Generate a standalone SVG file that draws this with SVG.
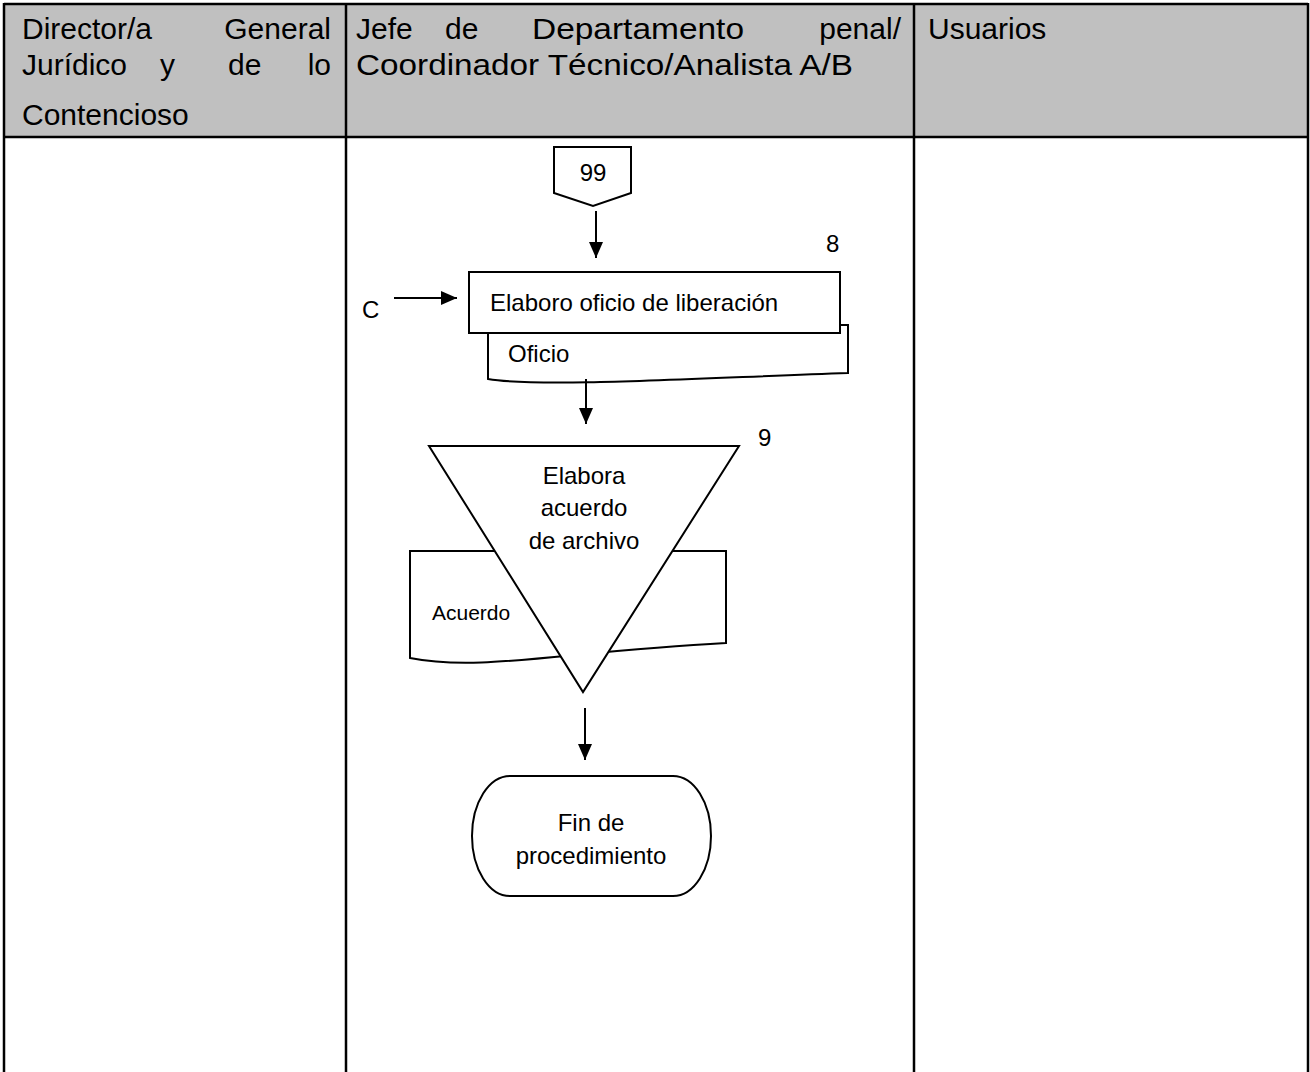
<svg xmlns="http://www.w3.org/2000/svg" width="1310" height="1072" viewBox="0 0 1310 1072">
  <style>
    .hdr { font-family: "Liberation Sans", Arial, sans-serif; font-size: 30px; fill: #000; }
    .txt { font-family: "Liberation Sans", Arial, sans-serif; font-size: 24px; fill: #000; }
    .sml { font-family: "Liberation Sans", Arial, sans-serif; font-size: 21px; fill: #000; }
    .grid { stroke: #000; stroke-width: 2.5; fill: none; }
    .shape { stroke: #000; stroke-width: 2; fill: #fff; }
    .flow { stroke: #000; stroke-width: 2; fill: none; }
  </style>
  <defs>
    <marker id="arrow" viewBox="0 0 16 14" refX="16" refY="7" markerWidth="16" markerHeight="14" markerUnits="userSpaceOnUse" orient="auto">
      <path d="M0,0 L16,7 L0,14 Z" fill="#000"/>
    </marker>
  </defs>

  <rect width="1310" height="1072" fill="#fff"/>

  <!-- Swimlane table -->
  <g id="table">
    <rect x="4" y="4" width="1304" height="133" fill="#c0c0c0"/>
    <line class="grid" x1="4" y1="4" x2="1308" y2="4"/>
    <line class="grid" x1="4" y1="137" x2="1308" y2="137"/>
    <line class="grid" x1="4" y1="3" x2="4" y2="1072"/>
    <line class="grid" x1="346" y1="3" x2="346" y2="1072"/>
    <line class="grid" x1="914" y1="3" x2="914" y2="1072"/>
    <line class="grid" x1="1308" y1="3" x2="1308" y2="1072"/>
  </g>

  <!-- Lane titles (justified lines set word by word) -->
  <g id="lane-headers">
    <text class="hdr" x="22" y="39">Director/a</text>
    <text class="hdr" x="331" y="39" text-anchor="end">General</text>
    <text class="hdr" x="22" y="75">Jurídico</text>
    <text class="hdr" x="160" y="75">y</text>
    <text class="hdr" x="228" y="75">de</text>
    <text class="hdr" x="331" y="75" text-anchor="end">lo</text>
    <text class="hdr" x="22" y="125">Contencioso</text>

    <text class="hdr" x="356" y="39">Jefe</text>
    <text class="hdr" x="445" y="39">de</text>
    <text class="hdr" x="532" y="39" textLength="212" lengthAdjust="spacingAndGlyphs">Departamento</text>
    <text class="hdr" x="901" y="39" text-anchor="end">penal/</text>
    <text class="hdr" x="356" y="75" textLength="497" lengthAdjust="spacingAndGlyphs">Coordinador Técnico/Analista A/B</text>

    <text class="hdr" x="928" y="39">Usuarios</text>
  </g>

  <!-- Off-page connector 99 -->
  <g id="node-99">
    <path class="shape" d="M554,147 H631 V193 L593,206 L554,193 Z"/>
    <text class="txt" x="593" y="181" text-anchor="middle">99</text>
  </g>

  <!-- Step 8 with its document -->
  <g id="node-oficio">
    <path class="shape" d="M488,325 H848 V373 C700,378 540,388 488,379 Z"/>
    <text class="txt" x="508" y="362">Oficio</text>
  </g>
  <g id="node-8">
    <rect class="shape" x="469" y="272" width="371" height="61"/>
    <text class="txt" x="490" y="311">Elaboro oficio de liberación</text>
    <text class="txt" x="826" y="252">8</text>
  </g>

  <!-- Step 9 with its document -->
  <g id="node-acuerdo">
    <path class="shape" d="M410,551 H726 V643 C560,652 480,672 410,658 Z"/>
    <text class="sml" x="432" y="620">Acuerdo</text>
  </g>
  <g id="node-9">
    <path class="shape" d="M429,446 H739 L583,692 Z"/>
    <text class="txt" x="584" y="484" text-anchor="middle">Elabora</text>
    <text class="txt" x="584" y="516" text-anchor="middle">acuerdo</text>
    <text class="txt" x="584" y="549" text-anchor="middle">de archivo</text>
    <text class="txt" x="758" y="446">9</text>
  </g>

  <!-- Terminator -->
  <g id="node-fin">
    <path class="shape" d="M510,776 H673 A38,60 0 0 1 673,896 H510 A38,60 0 0 1 510,776 Z"/>
    <text class="txt" x="591" y="831" text-anchor="middle">Fin de</text>
    <text class="txt" x="591" y="864" text-anchor="middle">procedimiento</text>
  </g>

  <!-- Incoming connector C -->
  <g id="node-c">
    <text class="txt" x="362" y="318">C</text>
  </g>

  <g id="connectors">
    <line class="flow" x1="596" y1="211" x2="596" y2="258" marker-end="url(#arrow)"/>
    <line class="flow" x1="394" y1="298" x2="457" y2="298" marker-end="url(#arrow)"/>
    <line class="flow" x1="586" y1="379" x2="586" y2="424" marker-end="url(#arrow)"/>
    <line class="flow" x1="585" y1="708" x2="585" y2="760" marker-end="url(#arrow)"/>
  </g>
</svg>
